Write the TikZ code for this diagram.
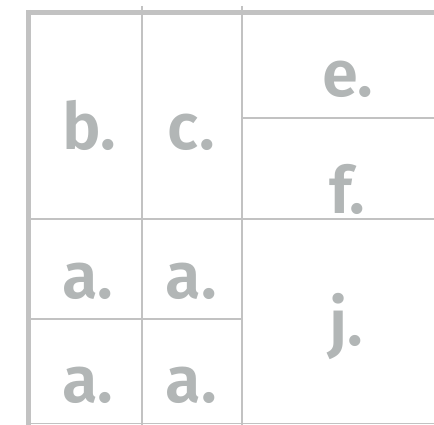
\documentclass[tikz,border=0pt]{standalone}
\usepackage{fontspec}
\setmainfont{Fira Sans}[BoldFont={Fira Sans SemiBold}]
\definecolor{gridc}{HTML}{C2C2C2}
\definecolor{txtc}{HTML}{B2B6B6}
\begin{document}
\begin{tikzpicture}[x=1pt,y=-1pt,
  thickline/.style={draw=gridc,line width=4.5pt},
  thinline/.style={draw=gridc,line width=2pt},
  lbl/.style={anchor=base,inner sep=0pt,text=txtc,font=\fontsize{65}{65}\selectfont\bfseries}]
\useasboundingbox (0,0) rectangle (434,425);
% inner grid
\draw[thinline] (142,6) -- (142,425);
\draw[thinline] (242,6) -- (242,425);
\draw[thinline] (28,219) -- (434,219);
\draw[thinline] (242,118) -- (434,118);
\draw[thinline] (28,319) -- (242,319);
\draw[draw=gridc,line width=1.5pt] (28,423.5) -- (434,423.5);
% outer borders
\draw[thickline] (28.5,10) -- (28.5,425);
\draw[thickline] (26,12.5) -- (434,12.5);
% labels
\node[lbl] (b) at (89,150) {b.};
\node[lbl] (c) at (191.5,150) {c.};
\node[lbl] (e) at (348,97) {e.};
\node[lbl] (f) at (347,214) {f.};
\node[lbl] (a1) at (88,298) {a.};
\node[lbl] (a2) at (191.5,298) {a.};
\node[lbl] (a3) at (88,402) {a.};
\node[lbl] (a4) at (191.5,402) {a.};
\node[lbl] (j) at (346,345) {j.};
\end{tikzpicture}
\end{document}
